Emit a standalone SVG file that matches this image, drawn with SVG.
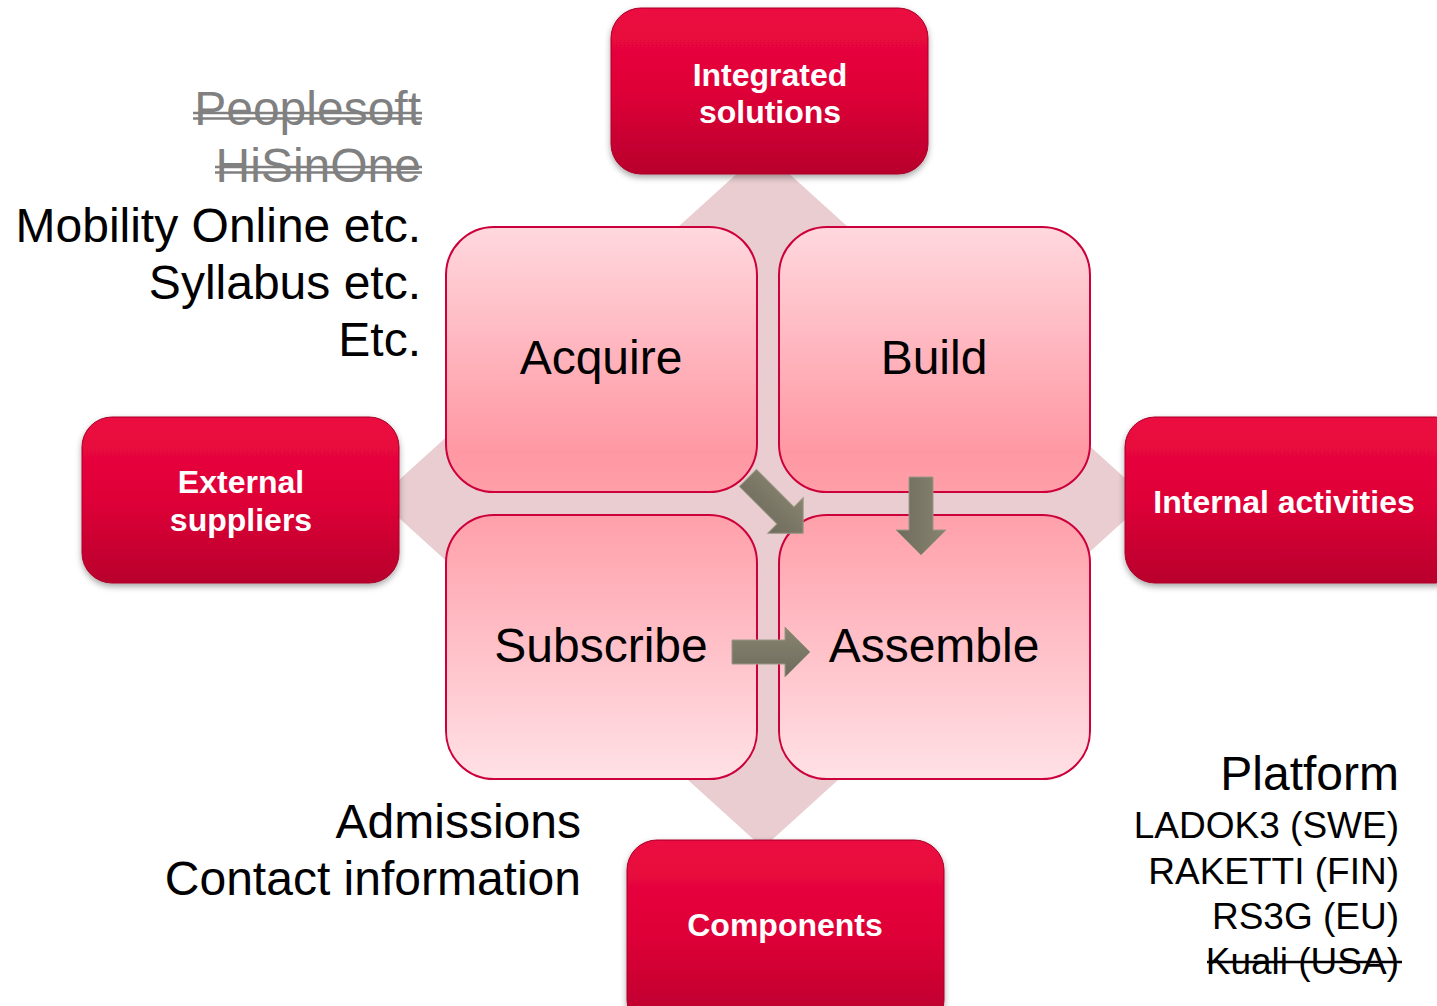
<svg xmlns="http://www.w3.org/2000/svg" width="1437" height="1006" viewBox="0 0 1437 1006">
<defs>
<linearGradient id="redG" x1="0" y1="0" x2="0" y2="1">
<stop offset="0" stop-color="#ec0a40"/>
<stop offset="0.5" stop-color="#df0238"/>
<stop offset="1" stop-color="#b8002c"/>
</linearGradient>
<linearGradient id="topSq" x1="0" y1="0" x2="0" y2="1">
<stop offset="0" stop-color="#ffd8de"/>
<stop offset="0.85" stop-color="#ff98a3"/>
<stop offset="1" stop-color="#ff9fa8"/>
</linearGradient>
<linearGradient id="botSq" x1="0" y1="0" x2="0" y2="1">
<stop offset="0" stop-color="#ffa0aa"/>
<stop offset="1" stop-color="#ffe1e6"/>
</linearGradient>
<linearGradient id="arrG" x1="0" y1="0" x2="0" y2="1">
<stop offset="0" stop-color="#88846f"/>
<stop offset="1" stop-color="#6e6b5e"/>
</linearGradient>
<filter id="sh" x="-10%" y="-10%" width="120%" height="125%">
<feGaussianBlur in="SourceAlpha" stdDeviation="3"/>
<feOffset dx="0" dy="3" result="b"/>
<feFlood flood-color="#000" flood-opacity="0.35"/>
<feComposite in2="b" operator="in"/>
<feMerge><feMergeNode/><feMergeNode in="SourceGraphic"/></feMerge>
</filter>
<path id="arr" d="M0,-12 L53,-12 L53,-25 L78,0 L53,25 L53,12 L0,12 Z"/>
</defs>
<style>
.red{fill:url(#redG);stroke:#a80028;stroke-width:1;filter:url(#sh)}
.wt{font-family:"Liberation Sans",Arial,sans-serif;font-weight:bold;font-size:32px;fill:#fff;text-anchor:middle}
.sq{stroke:#cc003a;stroke-width:2}
.lab{font-family:"Liberation Sans",Arial,sans-serif;font-size:48px;fill:#000;text-anchor:middle}
.side{font-family:"Liberation Sans",Arial,sans-serif;font-size:48px;fill:#000;text-anchor:end}
.gray{fill:#808080}
.small{font-family:"Liberation Sans",Arial,sans-serif;font-size:37px;fill:#000;text-anchor:end}
.arrow{fill:url(#arrG);stroke:#9a9785;stroke-width:1}
</style>
<rect width="1437" height="1006" fill="#fff"/>
<polygon id="diamond" points="763,150 1148,499 763,848 378,499" fill="#e9cdd0"/>

<g id="acquire">
<rect class="sq" x="446" y="227" width="311" height="265" rx="48" fill="url(#topSq)"/>
<text class="lab" x="601" y="374">Acquire</text>
</g>
<g id="build">
<rect class="sq" x="779" y="227" width="311" height="265" rx="48" fill="url(#topSq)"/>
<text class="lab" x="934" y="374">Build</text>
</g>
<g id="subscribe">
<rect class="sq" x="446" y="515" width="311" height="264" rx="48" fill="url(#botSq)"/>
<text class="lab" x="601" y="662">Subscribe</text>
</g>
<g id="assemble">
<rect class="sq" x="779" y="515" width="311" height="264" rx="48" fill="url(#botSq)"/>
<text class="lab" x="934" y="662">Assemble</text>
</g>

<g id="integrated">
<rect class="red" x="611" y="8" width="317" height="166" rx="30"/>
<text class="wt" x="770" y="86">Integrated</text>
<text class="wt" x="770" y="123">solutions</text>
</g>
<g id="external">
<rect class="red" x="82" y="417" width="317" height="166" rx="30"/>
<text class="wt" x="241" y="493">External</text>
<text class="wt" x="241" y="531">suppliers</text>
</g>
<g id="internal">
<rect class="red" x="1125" y="417" width="340" height="166" rx="30"/>
<text class="wt" x="1284" y="513">Internal activities</text>
</g>
<g id="components">
<rect class="red" x="627" y="840" width="317" height="190" rx="30"/>
<text class="wt" x="785" y="936">Components</text>
</g>

<g id="connectors">
<use href="#arr" class="arrow" transform="translate(748,478) rotate(45)"/>
<use href="#arr" class="arrow" transform="translate(921,477) rotate(90)"/>
<use href="#arr" class="arrow" transform="translate(732,652)"/>
</g>

<g id="left-text">
<text class="side gray" x="421" y="125">Peoplesoft</text>
<line x1="193" y1="113" x2="422" y2="113" stroke="#808080" stroke-width="2.5"/>
<line x1="193" y1="118.5" x2="422" y2="118.5" stroke="#808080" stroke-width="2.5"/>
<text class="side gray" x="421" y="182">HiSinOne</text>
<line x1="215" y1="167" x2="422" y2="167" stroke="#808080" stroke-width="2.5"/>
<line x1="215" y1="172.5" x2="422" y2="172.5" stroke="#808080" stroke-width="2.5"/>
<text class="side" x="421" y="242">Mobility Online etc.</text>
<text class="side" x="421" y="299">Syllabus etc.</text>
<text class="side" x="421" y="356">Etc.</text>
</g>
<g id="bottom-left-text">
<text class="side" x="581" y="838">Admissions</text>
<text class="side" x="581" y="895">Contact information</text>
</g>
<g id="platform-text">
<text class="side" x="1399" y="790">Platform</text>
<text class="small" x="1399" y="838">LADOK3 (SWE)</text>
<text class="small" x="1399" y="884">RAKETTI (FIN)</text>
<text class="small" x="1399" y="929">RS3G (EU)</text>
<text class="small" x="1399" y="974">Kuali (USA)</text>
<line x1="1207" y1="962" x2="1402" y2="962" stroke="#000" stroke-width="2.5"/>
</g>
</svg>
